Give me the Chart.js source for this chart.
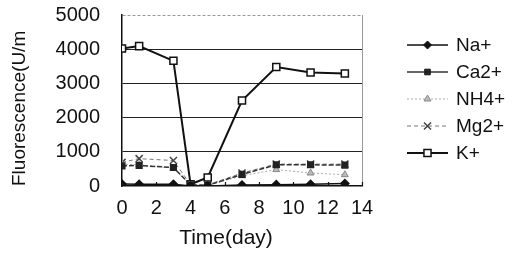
<!DOCTYPE html>
<html><head><meta charset="utf-8">
<script src="https://cdn.jsdelivr.net/npm/chart.js@4/dist/chart.umd.min.js"></script>
<style>html,body{margin:0;padding:0;background:#fff}#wrap{width:520px;height:253px}</style>
</head><body><div id="wrap"><canvas id="c" width="520" height="253"></canvas></div>
<script>
const days = [0, 1, 3, 4, 5, 7, 9, 11, 13];
const naValues  = [60, 50, 50, 0, 0, 30, 40, 50, 70];
const caValues  = [590, 600, 540, 30, 20, 340, 620, 620, 610];
const nh4Values = [640, 620, 520, 30, 20, 300, 480, 380, 330];
const mgValues  = [690, 800, 745, 40, 30, 380, 640, 640, 640];
const kValues   = [4020, 4090, 3660, 50, 250, 2500, 3480, 3320, 3290];
const seriesLabels = ['Na+', 'Ca2+', 'NH4+', 'Mg2+', 'K+'];
const xTicks = [0, 2, 4, 6, 8, 10, 12, 14];
const yTicks = [0, 1000, 2000, 3000, 4000, 5000];
const xTitle = 'Time(day)';
const yTitle = 'Fluorescence(U/m';

const pts = v => days.map((d, i) => ({x: d, y: v[i]}));
const FONT = '"Liberation Sans", Arial, sans-serif';

const datasets = [
  {label: seriesLabels[0], data: pts(naValues), borderColor: '#111', backgroundColor: '#111', borderWidth: 1.5,
   pointStyle: 'rectRot', pointRadius: 4, pointBorderColor: '#111', pointBackgroundColor: '#111'},
  {label: seriesLabels[1], data: pts(caValues), borderColor: '#333', backgroundColor: '#222', borderWidth: 1.5,
   borderDash: [5, 2], pointStyle: 'rect', pointRadius: 4, pointBorderColor: '#222', pointBackgroundColor: '#222'},
  {label: seriesLabels[2], data: pts(nh4Values), borderColor: '#aaa', backgroundColor: '#999', borderWidth: 1,
   borderDash: [2, 2], pointStyle: 'triangle', pointRadius: 4, pointBorderColor: '#888', pointBackgroundColor: '#bbb'},
  {label: seriesLabels[3], data: pts(mgValues), borderColor: '#777', backgroundColor: '#555', borderWidth: 1,
   borderDash: [4, 3], pointStyle: 'crossRot', pointRadius: 5, pointBorderColor: '#444', pointBorderWidth: 1.5},
  {label: seriesLabels[4], data: pts(kValues), borderColor: '#111', backgroundColor: '#fff', borderWidth: 2,
   pointStyle: 'rect', pointRadius: 5, pointBorderColor: '#111', pointBackgroundColor: '#fff', pointBorderWidth: 1.5}
];

const innerTicks = {
  id: 'innerTicks',
  afterDatasetsDraw(chart) {
    const ctx = chart.ctx, xs = chart.scales.x, y0 = chart.chartArea.bottom;
    ctx.save();
    ctx.strokeStyle = '#111'; ctx.lineWidth = 1.2;
    xTicks.forEach(v => {
      const px = Math.round(xs.getPixelForValue(v)) + 0.5;
      ctx.beginPath(); ctx.moveTo(px, y0); ctx.lineTo(px, y0 - 4); ctx.stroke();
    });
    ctx.restore();
  }
};

const legendPlugin = {
  id: 'sideLegend',
  afterDraw(chart) {
    const ctx = chart.ctx;
    const x0 = 407, x1 = 448, tx = 456, y0 = 45, dy = 27;
    chart.data.datasets.forEach((ds, i) => {
      const y = y0 + i * dy;
      ctx.save();
      ctx.strokeStyle = ds.borderColor;
      ctx.lineWidth = ds.borderWidth;
      ctx.setLineDash(i === 1 ? [] : (ds.borderDash || []));
      ctx.beginPath(); ctx.moveTo(x0, y); ctx.lineTo(x1, y); ctx.stroke();
      ctx.setLineDash([]);
      ctx.fillStyle = ds.pointBackgroundColor || '#000';
      ctx.strokeStyle = ds.pointBorderColor || '#000';
      ctx.lineWidth = ds.pointBorderWidth || 1;
      Chart.helpers.drawPoint(ctx, {pointStyle: ds.pointStyle, radius: ds.pointRadius, rotation: 0, borderWidth: ds.pointBorderWidth || 1}, (x0 + x1) / 2, y);
      ctx.fillStyle = '#111';
      ctx.font = '19px ' + FONT;
      ctx.textBaseline = 'middle';
      ctx.textAlign = 'left';
      ctx.fillText(ds.label, tx, y + 1);
      ctx.restore();
    });
    ctx.save();
    ctx.fillStyle = '#111';
    ctx.font = '21px ' + FONT;
    ctx.textAlign = 'center';
    ctx.textBaseline = 'middle';
    ctx.fillText(xTitle, 226, 238);
    ctx.restore();
  }
};

new Chart(document.getElementById('c'), {
  type: 'line',
  data: {datasets},
  plugins: [innerTicks, legendPlugin],
  options: {
    responsive: false, animation: false,
    layout: {padding: {left: 8, top: 15, right: 158, bottom: 0}},
    plugins: {legend: {display: false}, tooltip: {enabled: false}},
    scales: {
      x: {
        type: 'linear', min: 0, max: 14,
        afterBuildTicks: s => { s.ticks = xTicks.map(v => ({value: v})); },
        afterFit: s => { s.height = 67; s.paddingLeft = 0; s.paddingRight = 0; },
        grid: {drawTicks: false, color: c => c.tick && c.tick.value === 14 ? '#999' : 'rgba(0,0,0,0)'},
        border: {color: '#111', width: 1.5},
        ticks: {color: '#111', font: {size: 20, family: FONT}, padding: 10, maxRotation: 0, autoSkip: false,
                callback: v => String(v)}
      },
      y: {
        type: 'linear', min: 0, max: 5000,
        afterBuildTicks: s => { s.ticks = yTicks.map(v => ({value: v})); },
        afterFit: s => { s.width = 114; s.paddingTop = 0; s.paddingBottom = 0; },
        grid: {drawTicks: false, color: c => c.tick && c.tick.value === 5000 ? '#999' : (c.tick && c.tick.value === 0 ? 'rgba(0,0,0,0)' : '#222')},
        border: {color: '#111', width: 1.5, dash: c => (c.tick && c.tick.value === 5000) ? [3, 2] : []},
        title: {display: true, text: yTitle, align: 'start', color: '#111', font: {size: 19, family: FONT}, padding: 0},
        ticks: {color: '#111', font: {size: 20, family: FONT}, padding: 22, callback: v => String(v)}
      }
    }
  }
});
</script></body></html>
